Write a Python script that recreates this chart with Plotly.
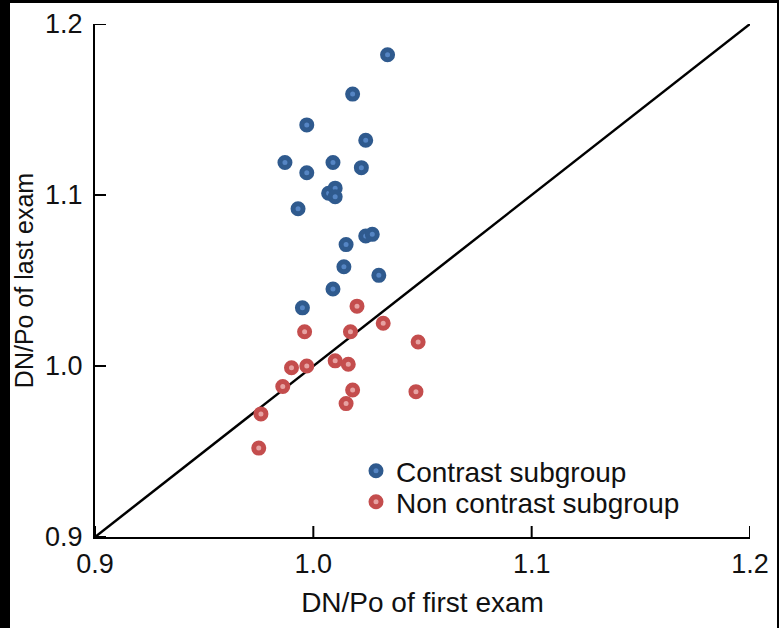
import plotly.graph_objects as go

# Contrast subgroup
contrast_first = [1.034, 1.018, 0.997, 1.024, 0.987, 1.009, 1.022, 0.997, 1.007, 1.010,
                  1.010, 0.993, 1.024, 1.027, 1.015, 1.014, 1.030, 1.009, 0.995]
contrast_last = [1.182, 1.159, 1.141, 1.132, 1.119, 1.119, 1.116, 1.113, 1.101, 1.104,
                 1.099, 1.092, 1.076, 1.077, 1.071, 1.058, 1.053, 1.045, 1.034]

# Non contrast subgroup
noncontrast_first = [1.020, 1.032, 0.996, 1.017, 1.048, 0.990, 0.997, 1.010, 1.016,
                     0.986, 1.018, 1.047, 1.015, 0.976, 0.975]
noncontrast_last = [1.035, 1.025, 1.020, 1.020, 1.014, 0.999, 1.000, 1.003, 1.001,
                    0.988, 0.986, 0.985, 0.978, 0.972, 0.952]

identity_line = [0.9, 1.2]
tick_vals = [0.9, 1.0, 1.1, 1.2]
tick_text = ["0.9", "1.0", "1.1", "1.2"]

FONT = "Liberation Sans, Arial, Helvetica, sans-serif"
TXT = "#111111"

fig = go.Figure()

fig.add_trace(go.Scatter(
    x=identity_line, y=identity_line, mode="lines",
    line=dict(color="black", width=2.5), showlegend=False, hoverinfo="skip",
    cliponaxis=False,
))

fig.add_trace(go.Scatter(
    x=contrast_first, y=contrast_last, mode="markers", name="Contrast subgroup",
    marker=dict(size=10, color="#5585c4", line=dict(color="#2f5a8e", width=5)),
    cliponaxis=False, legend="legend",
))
fig.add_trace(go.Scatter(
    x=noncontrast_first, y=noncontrast_last, mode="markers", name="Non contrast subgroup",
    marker=dict(size=10, color="#e6a2a2", line=dict(color="#c44d4d", width=5)),
    cliponaxis=False, legend="legend2",
))

axis_common = dict(
    range=[0.9, 1.2], showgrid=False, zeroline=False,
    showline=True, linecolor="black", linewidth=2,
    ticks="", tickmode="array", tickvals=tick_vals, ticktext=tick_text,
    tickfont=dict(family=FONT, size=27, color=TXT),
)

legend_common = dict(xanchor="left", yanchor="top",
                     bgcolor="rgba(0,0,0,0)", borderwidth=0,
                     font=dict(family=FONT, size=28, color=TXT),
                     itemsizing="trace")

W, H = 779, 628
L, R, T, B = 95, 29, 24, 91
PW, PH = W - L - R, H - T - B
TICK_LEN = 11


def px_x(p):
    return (p - L) / PW


def px_y(p):
    return (H - B - p) / PH


border = dict(type="rect", xref="paper", yref="paper", fillcolor="black",
              line=dict(width=0), layer="above")

shapes = [
    dict(border, x0=px_x(-5), x1=px_x(10), y0=px_y(H + 5), y1=px_y(-5)),
    dict(border, x0=px_x(-5), x1=px_x(W + 5), y0=px_y(3), y1=px_y(-5)),
    dict(border, x0=px_x(777), x1=px_x(W + 5), y0=px_y(H + 5), y1=px_y(-5)),
]
# inside tick marks
for v in tick_vals:
    shapes.append(dict(type="line", xref="x", yref="paper", x0=v, x1=v,
                       y0=0, y1=TICK_LEN / PH, line=dict(color="black", width=2)))
    shapes.append(dict(type="line", xref="paper", yref="y", y0=v, y1=v,
                       x0=0, x1=TICK_LEN / PW, line=dict(color="black", width=2)))

fig.update_layout(
    width=W, height=H,
    margin=dict(l=L, r=R, t=T, b=B, autoexpand=False),
    paper_bgcolor="white", plot_bgcolor="white",
    font=dict(family=FONT, size=28, color=TXT),
    xaxis=dict(**axis_common, ticklabelstandoff=2,
               title=dict(text="DN/Po of first exam", font=dict(family=FONT, size=28, color=TXT), standoff=14)),
    yaxis=dict(**axis_common, ticklabelstandoff=5,
               title=dict(text="DN/Po of last exam", font=dict(family=FONT, size=25, color=TXT), standoff=4)),
    legend=dict(x=px_x(356), y=px_y(446), **legend_common),
    legend2=dict(x=px_x(356), y=px_y(477), **legend_common),
    shapes=shapes,
)

fig.write_html("out.html")
